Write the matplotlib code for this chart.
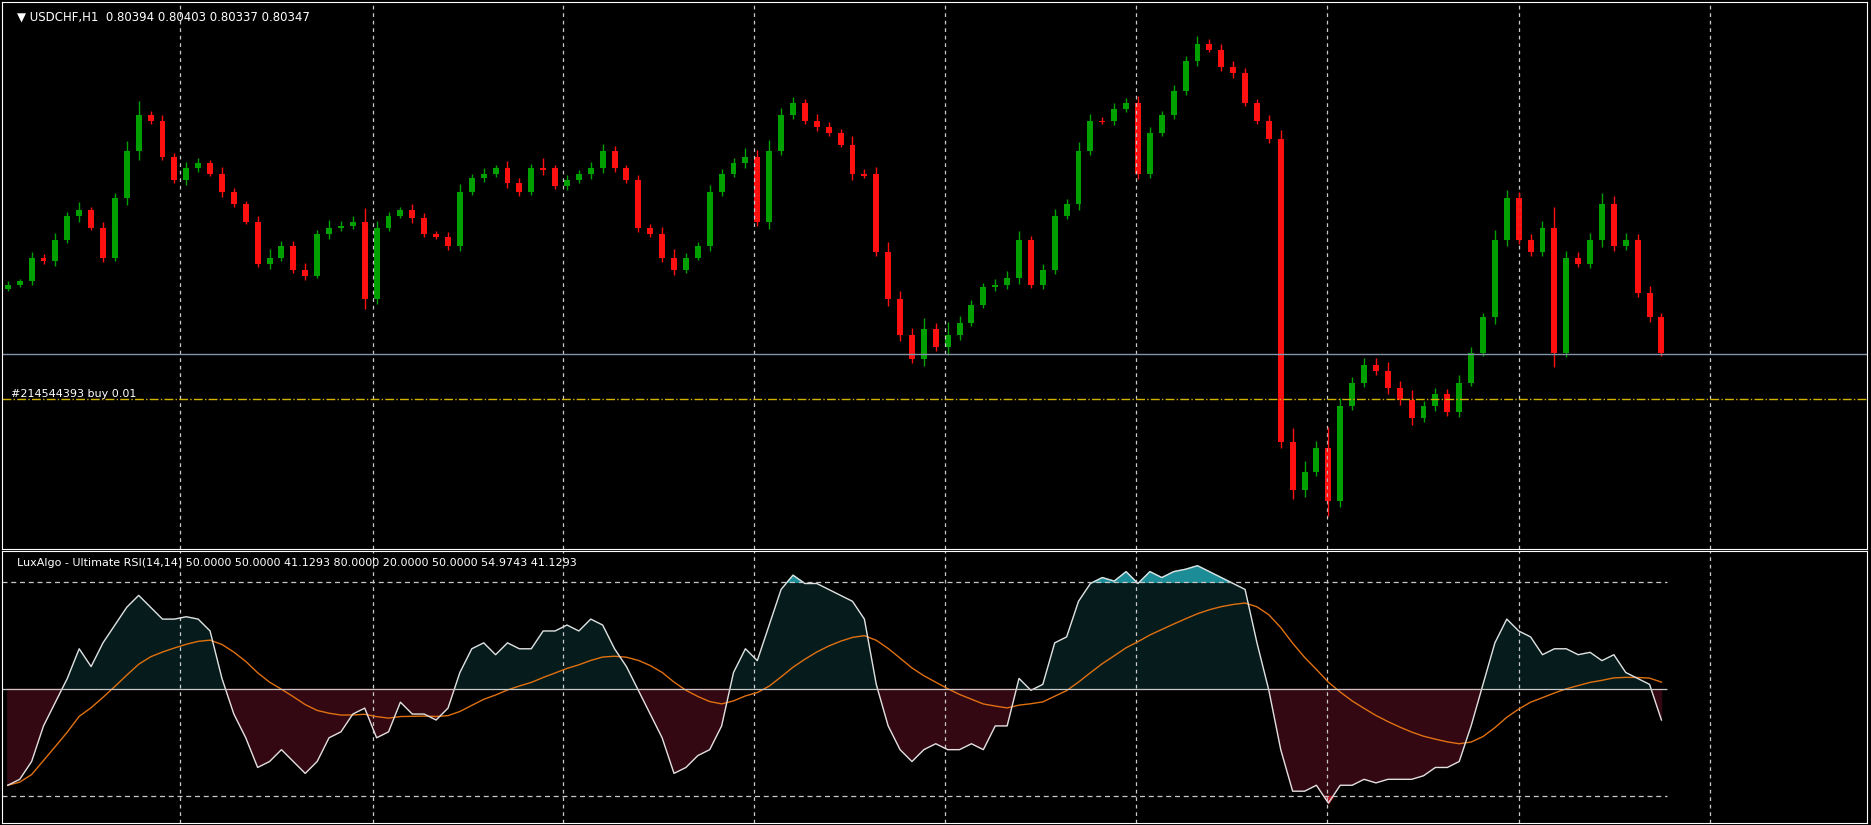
import matplotlib.pyplot as plt
import pandas as pd

# closes in chart-pixel units (smaller = higher price), one per H1 candle
closes = [238, 235, 215, 218, 200, 180, 175, 190, 215, 165, 125, 95, 100, 130, 150, 140, 135, 145, 160, 170,
          185, 220, 215, 205, 225, 230, 195, 190, 188, 185, 250, 190, 180, 175, 182, 195, 198, 205, 160, 148,
          145, 140, 152, 160, 140, 140, 155, 150, 145, 140, 125, 140, 150, 190, 195, 215, 225, 215, 205, 160,
          145, 135, 130, 185, 125, 95, 85, 100, 105, 110, 120, 145, 145, 210, 250, 280, 300, 275, 290, 280,
          270, 255, 240, 238, 232, 200, 238, 225, 180, 170, 125, 100, 100, 90, 85, 145, 110, 95, 75, 50,
          35, 40, 55, 60, 85, 100, 115, 370, 410, 395, 375, 420, 340, 320, 305, 310, 325, 335, 350, 340,
          330, 345, 320, 295, 265, 200, 165, 200, 210, 190, 295, 215, 220, 200, 170, 205, 200, 245, 265, 295]
wick = [6, 4, 8, 5, 10, 6, 12, 4, 9, 7, 14, 20, 6, 8, 5, 9, 7, 4, 10, 6,
        5, 8, 12, 6, 7, 9, 5, 11, 6, 8, 20, 10, 6, 5, 9, 7, 4, 8, 12, 6,
        9, 5, 10, 7, 6, 14, 5, 8, 6, 9, 10, 7, 5, 8, 6, 9, 12, 7, 5, 10,
        8, 6, 12, 9, 15, 10, 8, 6, 9, 7, 5, 12, 8, 10, 14, 12, 10, 15, 9, 18,
        10, 7, 6, 8, 9, 12, 6, 8, 10, 7, 12, 9, 6, 8, 7, 10, 8, 6, 9, 7,
        10, 6, 8, 9, 7, 6, 8, 12, 20, 15, 10, 30, 12, 8, 10, 9, 12, 10, 15, 8,
        9, 7, 10, 8, 6, 14, 12, 9, 8, 10, 30, 9, 8, 10, 15, 12, 9, 8, 10, 6]
# Ultimate RSI values
rsi = [660, 655, 640, 610, 590, 570, 545, 560, 540, 525, 510, 500, 510, 520, 520, 518, 520, 530, 570, 600,
       620, 645, 640, 630, 640, 650, 640, 620, 615, 600, 595, 620, 615, 590, 600, 600, 605, 595, 565, 545,
       540, 550, 540, 545, 545, 530, 530, 525, 530, 520, 525, 545, 560, 580, 600, 620, 650, 645, 635, 630,
       610, 565, 545, 555, 525, 495, 483, 490, 490, 495, 500, 505, 520, 575, 610, 630, 640, 630, 625, 630,
       630, 625, 630, 610, 610, 570, 580, 575, 540, 535, 505, 490, 485, 488, 480, 490, 480, 485, 480, 478,
       475, 480, 485, 490, 495, 540, 580, 630, 665, 665, 660, 675, 660, 660, 655, 658, 655, 655, 655, 652,
       645, 645, 640, 610, 575, 540, 520, 530, 535, 550, 545, 545, 550, 548, 555, 550, 565, 570, 575, 605]
rsi = [50 + (579 - v) / 90 * 30 for v in rsi]
rsi_x = list(range(len(rsi)))
signal = pd.Series(rsi).ewm(span=20).mean()

bid_level = 296
buy_level = 334
grid_x = [14.5, 30.7, 46.7, 62.7, 78.8, 94.8, 110.9, 127, 143.1]

fig = plt.figure(figsize=(18.71, 8.25), dpi=100, facecolor="black")
ax = fig.add_axes([0.001, (825 - 549) / 825, 0.997, 547 / 825], facecolor="black")
ax2 = fig.add_axes([0.001, 0.002, 0.997, 272 / 825], facecolor="black")

for a in (ax, ax2):
    a.set_xlim(-0.5, 156.3)
    a.set_xticks([])
    a.set_yticks([])
    for s in a.spines.values():
        s.set_color("white")
    for gx in grid_x:
        a.axvline(gx, color="#c8c8c8", ls=(0, (3, 3)), lw=0.9)

# candles
prev = closes[0] + 3
for i, c in enumerate(closes):
    o = prev
    col = "#00a000" if c < o else "#ff1010"
    top, bot = min(o, c), max(o, c)
    ax.vlines(i, top - wick[i] * 0.6, bot + wick[i] * 0.4, color=col, lw=1)
    ax.bar(i, max(bot - top, 1), bottom=top, width=0.5, color=col)
    prev = c
ax.set_ylim(460, 0)
ax.axhline(bid_level, color="#8494a8", lw=1)
ax.axhline(buy_level, color="#d2b400", lw=1, ls="-.")
ax.text(0.3, buy_level - 2, "#214544393 buy 0.01", color="white", fontsize=8)
ax.text(0.008, 0.985, "\u25bc USDCHF,H1  0.80394 0.80403 0.80337 0.80347", transform=ax.transAxes,
        color="white", fontsize=8.5, va="top")

# RSI panel
ax2.set_ylim(12.3, 88.7)
ax2.fill_between(rsi_x, 50, rsi, where=[v >= 50 for v in rsi], interpolate=True, color="#061c1c")
ax2.fill_between(rsi_x, 50, rsi, where=[v < 50 for v in rsi], interpolate=True, color="#330812")
ax2.fill_between(rsi_x, 80, rsi, where=[v > 80 for v in rsi], interpolate=True, color="#1c8c96")
ax2.fill_between(rsi_x, 20, rsi, where=[v < 20 for v in rsi], interpolate=True, color="#b01020")
ax2.plot(rsi_x, signal, color="#e07010", lw=1)
ax2.plot(rsi_x, rsi, color="#e0e0e0", lw=1)
ax2.hlines([80, 20], -0.5, 139.5, color="#c8c8c8", ls=(0, (4, 3)), lw=0.9)
ax2.hlines(50, -0.5, 139.5, color="#c8c8c8", lw=0.9)
ax2.text(0.008, 0.975, "LuxAlgo - Ultimate RSI(14,14) 50.0000 50.0000 41.1293 80.0000 20.0000 50.0000 54.9743 41.1293",
         transform=ax2.transAxes, color="white", fontsize=8, va="top")

fig.savefig("out.png", dpi=100, facecolor="black")
